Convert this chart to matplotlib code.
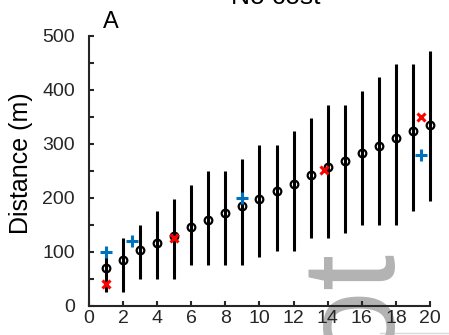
import matplotlib
matplotlib.use('Agg')
import matplotlib.pyplot as plt
import numpy as np

plt.rcParams['font.family'] = ['Liberation Sans', 'DejaVu Sans']

# data
trial = np.arange(1, 21)
dist_mean = [70, 85, 104, 117, 130, 146, 160, 173, 185, 199,
             213, 225, 243, 257, 269, 283, 297, 312, 324, 335]
dist_lo = [26, 26, 50, 50, 50, 76, 76, 76, 76, 91,
           101, 101, 125, 125, 136, 150, 150, 150, 175, 195]
dist_hi = [91, 125, 150, 175, 199, 224, 250, 250, 273, 299,
           299, 324, 349, 373, 373, 399, 424, 448, 448, 473]
plus_x = [1, 2.5, 9, 19.5]
plus_y = [100, 120, 200, 280]
cross_x = [1, 5, 13.8, 19.5]
cross_y = [40, 125, 251, 350]
xticks = np.arange(0, 21, 2)
yticks = np.arange(0, 501, 100)

dark = '#262626'

fig = plt.figure(figsize=(4.49, 3.35), dpi=100)
ax = fig.add_axes([0.1982, 0.0866, 0.7595, 0.806])
ax.patch.set_alpha(0)

# grey watermark behind everything
ax.text(384 / 449, 1 - 243 / 335, 'Not', transform=fig.transFigure,
        rotation=90, rotation_mode='anchor', ha='right', va='baseline',
        fontsize=94, color='#b3b3b3', zorder=0, clip_on=False)
fig.add_artist(plt.Line2D([380 / 449, 1], [1 - 333 / 335] * 2,
                          color='#d9d9d9', linewidth=1, zorder=0))

ax.vlines(trial, dist_lo, dist_hi, color='black', linewidth=2.2, zorder=2,
          clip_on=False)
ax.plot(trial, dist_mean, 'o', mfc='none', mec='black', ms=5.5, mew=1.6,
        zorder=3, clip_on=False)
ax.plot(plus_x, plus_y, '+', color='#0072BD', ms=8, mew=2.2, zorder=4)
ax.plot(cross_x, cross_y, 'x', color='#FF0000', ms=5.5, mew=2.2, zorder=4)

ax.set_xlim(0, 20)
ax.set_ylim(0, 500)
ax.set_xticks(xticks)
ax.set_yticks(yticks)
ax.set_yticks(np.arange(50, 500, 100), minor=True)

for s in ['top', 'right']:
    ax.spines[s].set_visible(False)
for s in ['left', 'bottom']:
    ax.spines[s].set_color(dark)
    ax.spines[s].set_linewidth(1.5)

ax.tick_params(axis='both', which='both', direction='in', length=3.5,
               width=1.5, color=dark, labelcolor=dark, labelsize=14)
ax.tick_params(axis='y', pad=10)
ax.tick_params(axis='x', pad=3)

ax.set_ylabel('Distance (m)', fontsize=18, color='black')
ax.yaxis.set_label_coords(-0.164, 0.53)

fig.text(276 / 449, 1 - 4 / 335, 'No cost', ha='center', va='baseline',
         fontsize=19, color='black')
fig.text(103 / 449, 1 - 28 / 335, 'A', ha='left', va='baseline',
         fontsize=17, color='black')

fig.savefig('out.png', dpi=100)
